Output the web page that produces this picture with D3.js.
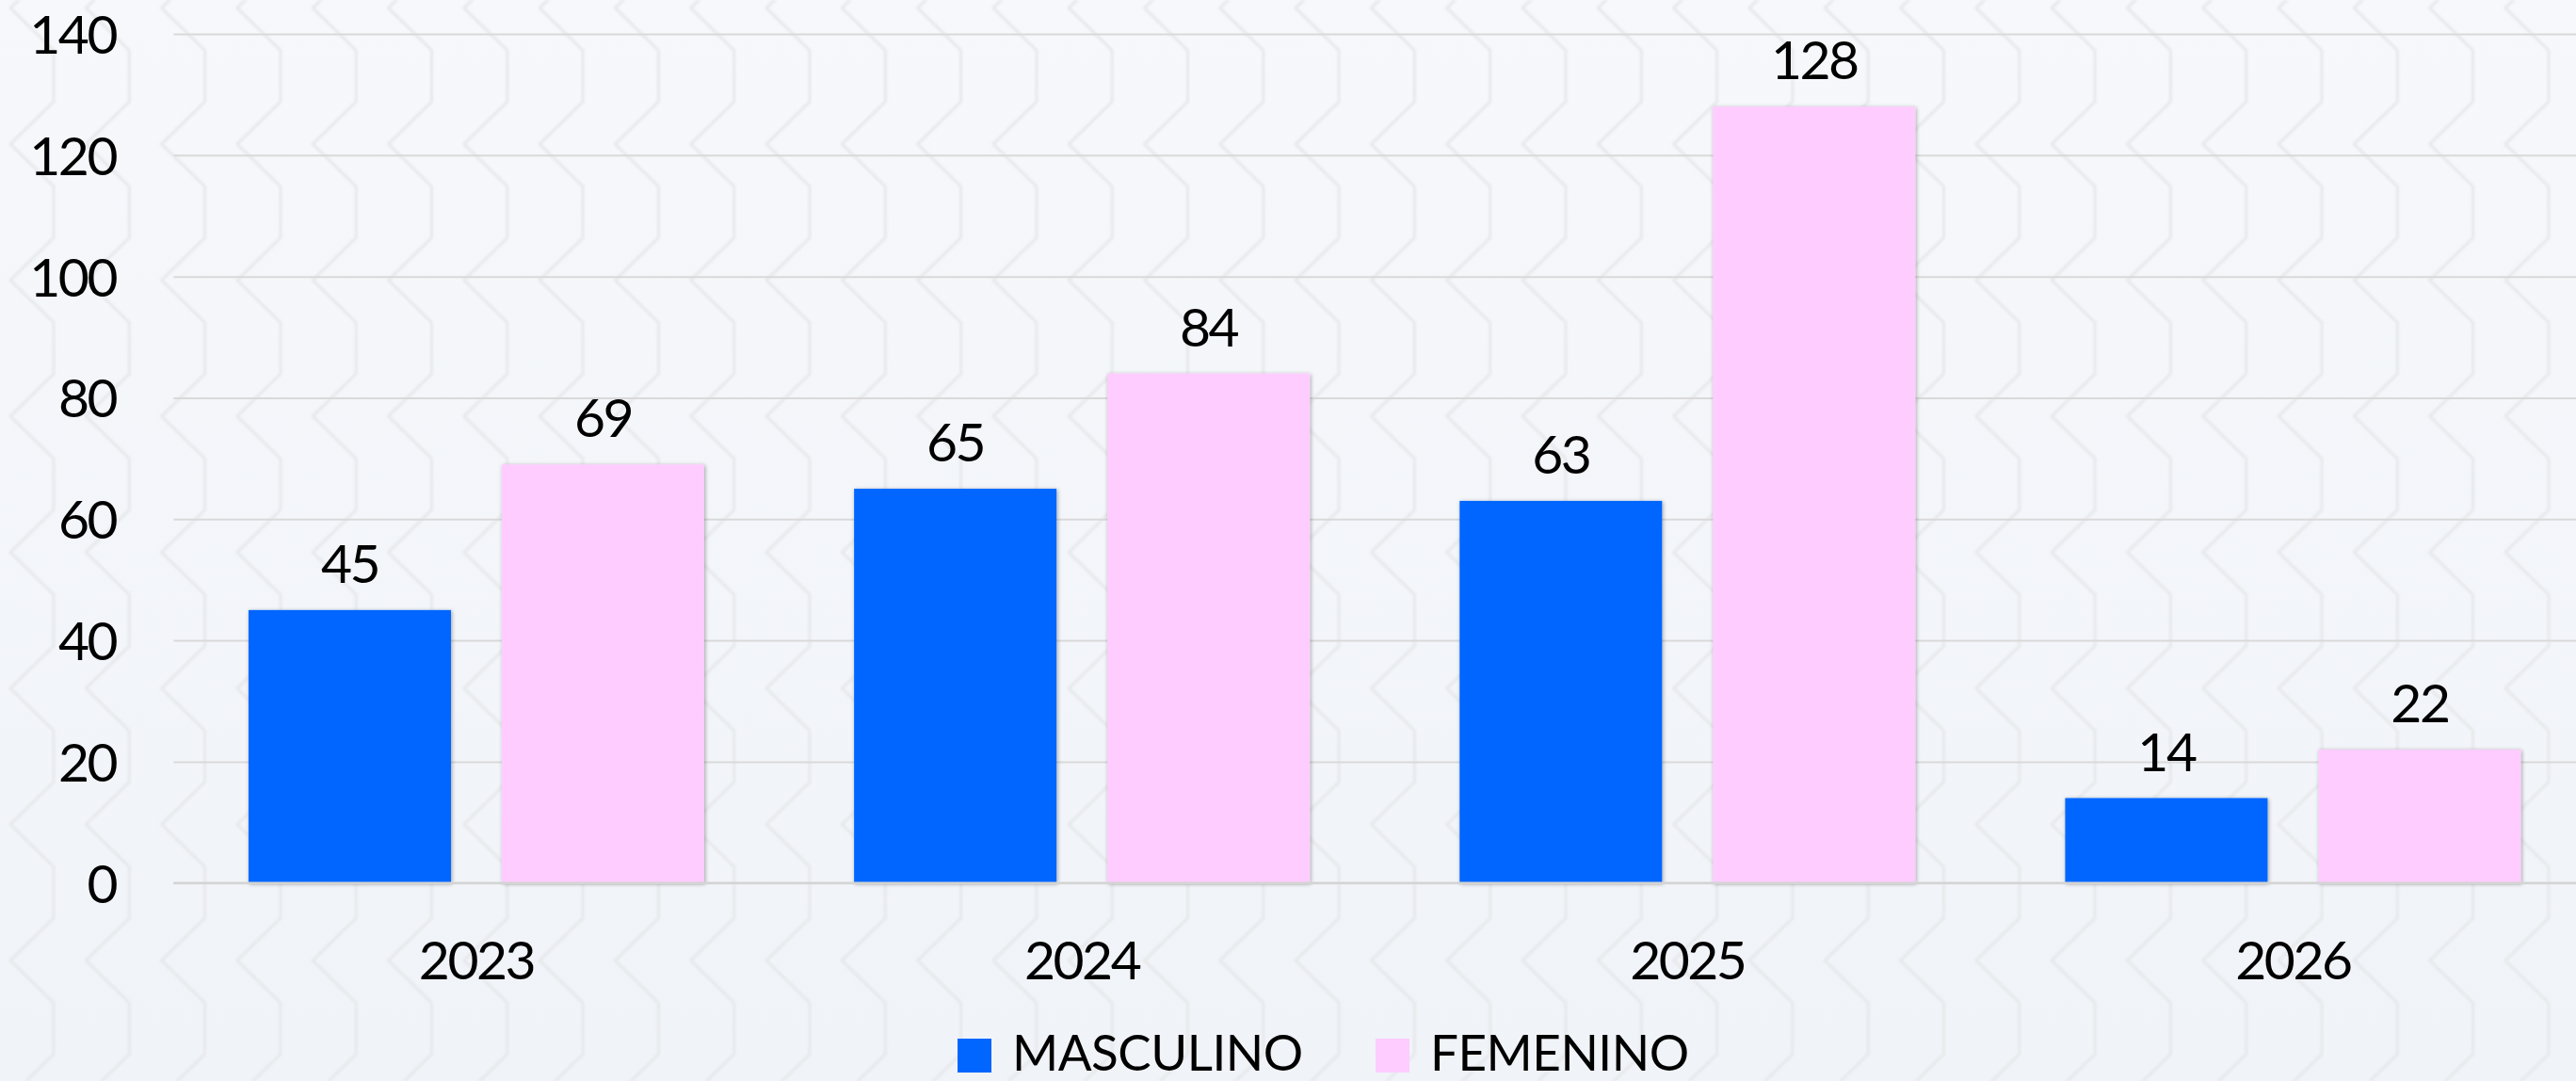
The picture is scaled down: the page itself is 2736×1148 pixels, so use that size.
<!DOCTYPE html>
<html>
<head>
<meta charset="utf-8">
<script src="https://cdn.jsdelivr.net/npm/d3@7"></script>
<style>
  html, body { margin: 0; padding: 0; background: #f3f5f9; }
  svg { display: block; }
  text { font-family: Lato, "Open Sans", sans-serif; fill: #000; }
</style>
</head>
<body>
<svg id="chart" width="2736" height="1148"></svg>
<script>
// ---- data ----
const categories = ["2023", "2024", "2025", "2026"];
const seriesNames = ["MASCULINO", "FEMENINO"];
const masculino = [45, 65, 63, 14];
const femenino = [69, 84, 128, 22];
const yTicks = [0, 20, 40, 60, 80, 100, 120, 140];
const colors = ["#0066ff", "#ffccff"];

const W = 2736, H = 1148;
const svg = d3.select("#chart");
const defs = svg.append("defs");

// background gradient + faint chevron pattern
const grad = defs.append("linearGradient").attr("id", "bg").attr("x1", 0).attr("y1", 0).attr("x2", 0).attr("y2", 1);
grad.append("stop").attr("offset", "0%").attr("stop-color", "#f6f8fb");
grad.append("stop").attr("offset", "100%").attr("stop-color", "#f0f3f8");

const pat = defs.append("pattern").attr("id", "chev")
  .attr("patternUnits", "userSpaceOnUse")
  .attr("x", -3).attr("y", 81)
  .attr("width", 80.3).attr("height", 144.5);
pat.append("path")
  .attr("d", "M60,-2 L60,27 L14,72 L60,117 L60,146.5")
  .attr("fill", "none").attr("stroke", "#e7e9eb").attr("stroke-width", 3.2)
  .attr("stroke-linejoin", "round");

const blur = defs.append("filter").attr("id", "soft");
blur.append("feGaussianBlur").attr("stdDeviation", 0.9);

const shadow = defs.append("filter").attr("id", "shadow")
  .attr("x", "-10%").attr("y", "-10%").attr("width", "120%").attr("height", "120%");
shadow.append("feDropShadow").attr("dx", 1).attr("dy", 1).attr("stdDeviation", 2.2)
  .attr("flood-color", "#000").attr("flood-opacity", 0.35);

svg.append("rect").attr("width", W).attr("height", H).attr("fill", "url(#bg)");
svg.append("rect").attr("width", W).attr("height", H).attr("fill", "url(#chev)").attr("filter", "url(#soft)");

// ---- scales ----
const plotLeft = 184.4, plotRight = 2757;
const x0 = d3.scaleBand().domain(categories).range([plotLeft, plotRight])
  .paddingInner(0.2475).paddingOuter(0.2475 / 2);
const x1 = d3.scaleBand().domain(seriesNames).range([0, x0.bandwidth()])
  .paddingInner(0.2007).paddingOuter(0);
const y = d3.scaleLinear().domain([0, 140]).range([937.7, 36]);

// ---- gridlines ----
const grid = svg.append("g").attr("transform", `translate(${plotLeft},0)`)
  .call(d3.axisLeft(y).tickValues(yTicks).tickSize(-(W - plotLeft)).tickFormat(""));
grid.select(".domain").remove();
grid.selectAll(".tick line").attr("stroke", "#d9d9d9").attr("stroke-width", 2);

// y-axis labels
const yAxis = svg.append("g").attr("transform", `translate(123,0)`)
  .call(d3.axisLeft(y).tickValues(yTicks).tickSize(0).tickPadding(0).tickFormat(d3.format("d")));
yAxis.select(".domain").remove();
yAxis.selectAll(".tick text")
  .attr("font-size", 57).attr("letter-spacing", "-2.5px")
  .attr("font-family", "Lato, 'Open Sans', sans-serif").attr("fill", "#000")
  .attr("dy", "0.36em");

// ---- bars ----
const data = categories.map((c, i) => ({ cat: c, vals: [masculino[i], femenino[i]] }));
const groups = svg.append("g").selectAll("g").data(data).join("g")
  .attr("transform", d => `translate(${x0(d.cat)},0)`);

groups.selectAll("rect").data(d => d.vals.map((v, j) => ({ s: seriesNames[j], v, j })))
  .join("rect")
  .attr("x", d => x1(d.s))
  .attr("y", d => y(d.v))
  .attr("width", x1.bandwidth())
  .attr("height", d => y(0) - y(d.v))
  .attr("fill", d => colors[d.j])
  .attr("filter", "url(#shadow)");

// x axis line (zero) drawn over bars
svg.append("line").attr("x1", plotLeft).attr("x2", W)
  .attr("y1", y(0)).attr("y2", y(0)).attr("stroke", "#d4d4d4").attr("stroke-width", 2.6);

// data labels
groups.selectAll("text.val").data(d => d.vals.map((v, j) => ({ s: seriesNames[j], v, j })))
  .join("text").attr("class", "val")
  .attr("x", d => x1(d.s) + x1.bandwidth() / 2)
  .attr("y", d => y(d.v) - 29)
  .attr("text-anchor", "middle")
  .attr("font-size", 57).attr("letter-spacing", "-2.5px")
  .text(d => d.v);

// x labels
const xAxis = svg.append("g").attr("transform", `translate(0,${y(0)})`)
  .call(d3.axisBottom(x0).tickSize(0).tickPadding(0));
xAxis.select(".domain").remove();
xAxis.selectAll(".tick text")
  .attr("font-size", 57).attr("letter-spacing", "-2.5px")
  .attr("font-family", "Lato, 'Open Sans', sans-serif").attr("fill", "#000")
  .attr("dy", 0).attr("y", 1040 - y(0));

// ---- legend ----
const legendItems = [
  { name: seriesNames[0], color: colors[0], sx: 1017, tx: 1075 },
  { name: seriesNames[1], color: colors[1], sx: 1461, tx: 1519 }
];
const lg = svg.append("g");
lg.selectAll("rect").data(legendItems).join("rect")
  .attr("x", d => d.sx).attr("y", 1103).attr("width", 36).attr("height", 36)
  .attr("fill", d => d.color);
lg.selectAll("text").data(legendItems).join("text")
  .attr("x", d => d.tx).attr("y", 1137)
  .attr("font-size", 53).attr("letter-spacing", "-0.5px")
  .text(d => d.name);
</script>
</body>
</html>
